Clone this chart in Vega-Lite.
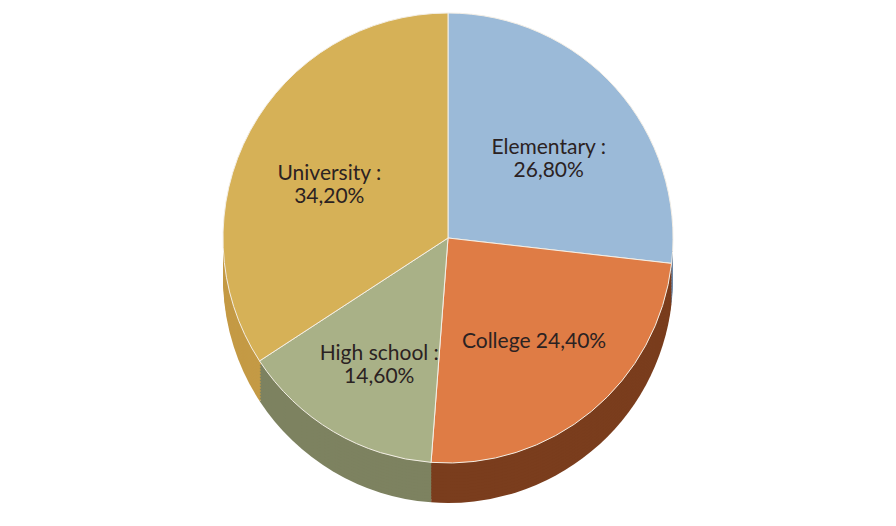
{
  "$schema": "https://vega.github.io/schema/vega-lite/v6.json",
  "width": 896,
  "height": 526,
  "autosize": {"type": "fit", "contains": "padding"},
  "background": "white",
  "config": {"view": {"stroke": null}},
  "data": {
    "values": [
      {"level": "Elementary", "pct": 26.8, "label": "Elementary :\n26,80%", "k": 1},
      {"level": "College", "pct": 24.4, "label": "College 24,40%", "k": 2},
      {"level": "High school", "pct": 14.6, "label": "High school :\n14,60%", "k": 3},
      {"level": "University", "pct": 34.2, "label": "University :\n34,20%", "k": 4}
    ]
  },
  "encoding": {
    "theta": {"field": "pct", "type": "quantitative", "stack": true},
    "order": {"field": "k", "type": "quantitative"},
    "color": {"field": "level", "type": "nominal", "legend": null,
      "scale": {"domain": ["Elementary", "College", "High school", "University"], "range": ["#6f88a6", "#7a3d1d", "#7d8260", "#c49a45"]}}
  },
  "layer": [
    {"mark": {"type": "arc", "outerRadius": 225, "yOffset": 15}},
    {"mark": {"type": "arc", "outerRadius": 225, "yOffset": 12}},
    {"mark": {"type": "arc", "outerRadius": 225, "yOffset": 9}},
    {"mark": {"type": "arc", "outerRadius": 225, "yOffset": 6}},
    {"mark": {"type": "arc", "outerRadius": 225, "yOffset": 3}},
    {"mark": {"type": "arc", "outerRadius": 225, "yOffset": 0}},
    {"mark": {"type": "arc", "outerRadius": 225, "yOffset": -3}},
    {"mark": {"type": "arc", "outerRadius": 225, "yOffset": -6}},
    {"mark": {"type": "arc", "outerRadius": 225, "yOffset": -9}},
    {"mark": {"type": "arc", "outerRadius": 225, "yOffset": -12}},
    {"mark": {"type": "arc", "outerRadius": 225, "yOffset": -15}},
    {"mark": {"type": "arc", "outerRadius": 225, "yOffset": -18}},
    {"mark": {"type": "arc", "outerRadius": 225, "yOffset": -21}},
    {
      "mark": {"type": "arc", "outerRadius": 225, "yOffset": -25, "stroke": "#f4efe6", "strokeWidth": 1},
      "encoding": {"color": {"field": "level", "type": "nominal", "legend": null,
        "scale": {"domain": ["Elementary", "College", "High school", "University"], "range": ["#9bbad8", "#df7c45", "#a9b187", "#d6b157"]}}}
    },
    {
      "mark": {"type": "text", "radius": 135, "yOffset": -25, "font": "Lato", "fontSize": 21, "fill": "#2b2222", "lineBreak": "\n", "align": "center", "baseline": "middle"},
      "encoding": {"text": {"field": "label", "type": "nominal"}, "color": {"value": "#2b2222"}}
    }
  ],
  "resolve": {"scale": {"color": "independent"}}
}
